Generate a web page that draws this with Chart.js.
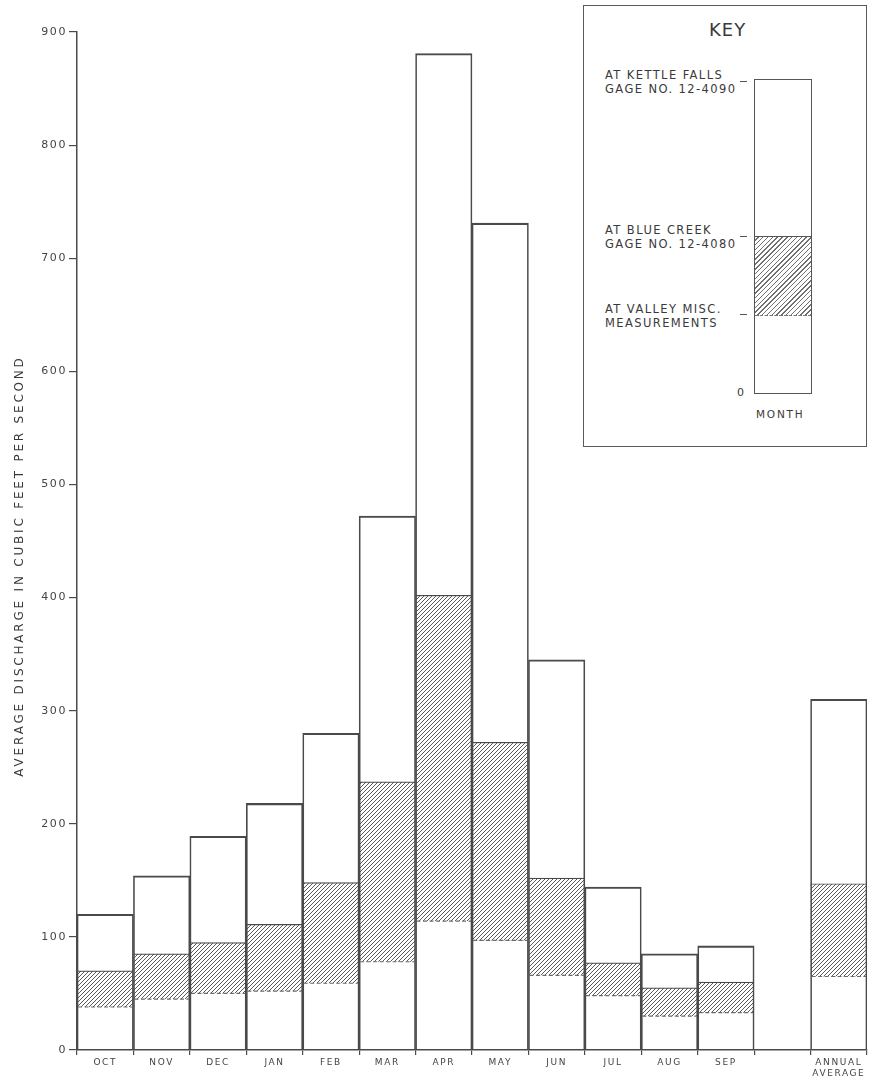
<!DOCTYPE html>
<html>
<head>
<meta charset="utf-8">
<script src="https://cdn.jsdelivr.net/npm/chart.js@4.4.0/dist/chart.umd.min.js"></script>
<style>
html,body{margin:0;padding:0;background:#fff;}
#wrap{position:relative;width:869px;height:1084px;overflow:hidden;}
#chart{position:absolute;left:0;top:0;}
#key{position:absolute;left:583px;top:5px;width:284px;height:442px;border:1.5px solid #5a5a5a;box-sizing:border-box;font-family:"DejaVu Sans",sans-serif;color:#3a3a3a;background:#fff;}
#key .t{position:absolute;white-space:nowrap;}
#key .lab{font-size:11.5px;line-height:14px;letter-spacing:1.4px;}
#key .dash{position:absolute;width:7px;height:0;border-top:1.2px solid #555;}
#kbar{position:absolute;left:170px;top:73px;width:58px;height:315px;border:1.5px solid #555;box-sizing:border-box;}
#khatch{position:absolute;left:0;right:0;top:156px;height:78px;border-top:1.2px solid #555;border-bottom:1.2px dashed #777;background:repeating-linear-gradient(-45deg,#707070 0px,#707070 1px,#fff 1px,#fff 3.4px);}
</style>
</head>
<body>
<div id="wrap">
<canvas id="chart" width="869" height="1084"></canvas>
<div id="key">
  <div class="t" style="left:125px;top:13px;font-size:18px;letter-spacing:1px;">KEY</div>
  <div class="t lab" style="left:21px;top:62px;">AT KETTLE FALLS<br>GAGE NO. 12-4090</div>
  <div class="dash" style="left:156px;top:75px;"></div>
  <div class="t lab" style="left:21px;top:217px;">AT BLUE CREEK<br>GAGE NO. 12-4080</div>
  <div class="dash" style="left:156px;top:230px;"></div>
  <div class="t lab" style="left:21px;top:296px;">AT VALLEY MISC.<br>MEASUREMENTS</div>
  <div class="dash" style="left:156px;top:308px;"></div>
  <div id="kbar"><div id="khatch"></div></div>
  <div class="t" style="left:153px;top:380px;font-size:11px;">0</div>
  <div class="t" style="left:172px;top:402px;font-size:10.5px;letter-spacing:1.8px;">MONTH</div>
</div>
</div>
<script>
// ---- data ----
const categories = ['OCT','NOV','DEC','JAN','FEB','MAR','APR','MAY','JUN','JUL','AUG','SEP','',['ANNUAL','AVERAGE']];
const kettleFalls = [120,154,189,218,280,472,881,731,345,144,85,92,null,310];
const blueCreek   = [70,85,95,111,148,237,402,272,152,77,55,60,null,147];
const valley      = [38,45,50,52,59,78,114,97,66,48,30,33,null,65];
const yTicks      = [0,100,200,300,400,500,600,700,800,900];
const yTitle      = 'AVERAGE DISCHARGE IN CUBIC FEET PER SECOND';

// ---- hatch pattern ----
function makeHatch(){
  const s = 4;
  const c = document.createElement('canvas');
  c.width = s; c.height = s;
  const g = c.getContext('2d');
  g.fillStyle = '#fff'; g.fillRect(0,0,s,s);
  g.strokeStyle = '#5a5a5a'; g.lineWidth = 1;
  g.beginPath();
  g.moveTo(0,s); g.lineTo(s,0);
  g.moveTo(-1,1); g.lineTo(1,-1);
  g.moveTo(s-1,s+1); g.lineTo(s+1,s-1);
  g.stroke();
  return g.createPattern(c,'repeat');
}

Chart.defaults.font.family = '"DejaVu Sans", sans-serif';

const dashedValley = {
  id:'dashedValley',
  afterDatasetsDraw(chart){
    const meta = chart.getDatasetMeta(1);
    const ctx = chart.ctx;
    ctx.save();
    ctx.strokeStyle = '#6a6a6a';
    ctx.lineWidth = 1.2;
    ctx.setLineDash([4,2.5]);
    meta.data.forEach((el,i)=>{
      if (valley[i] == null) return;
      const p = el.getProps(['x','width','base'], true);
      ctx.beginPath();
      ctx.moveTo(p.x - p.width/2 + 1, p.base);
      ctx.lineTo(p.x + p.width/2 - 1, p.base);
      ctx.stroke();
    });
    ctx.restore();
  }
};

// wide, stencil-like lettering: add letter spacing to the canvas texts
const lettering = {
  id:'lettering',
  afterLayout(chart){
    const s = chart.scales.y;
    if (s && !s._wrappedTitle){
      const orig = s.drawTitle.bind(s);
      s.drawTitle = function(){
        const ctx = chart.ctx;
        ctx.save();
        ctx.letterSpacing = '2.8px';
        ctx.translate(0, 25);
        orig();
        ctx.restore();
      };
      s._wrappedTitle = true;
    }
  },
  beforeDraw(chart){ chart.ctx.letterSpacing = '1.6px'; },
  afterDraw(chart){ chart.ctx.letterSpacing = '0px'; }
};

new Chart(document.getElementById('chart'), {
  type:'bar',
  data:{
    labels: categories,
    datasets:[
      {
        label:'At Kettle Falls',
        data: kettleFalls,
        grouped:false,
        backgroundColor:'rgba(0,0,0,0)',
        borderColor:'#4a4a4a',
        borderWidth:{top:1.4,left:1,right:1,bottom:0},
        borderSkipped:false,
        barPercentage:1, categoryPercentage:1
      },
      {
        label:'At Blue Creek',
        data: blueCreek.map((v,i)=> v==null ? null : [valley[i], v]),
        grouped:false,
        backgroundColor: makeHatch(),
        borderColor:'#4a4a4a',
        borderWidth:{top:1.2,left:0,right:0,bottom:0},
        borderSkipped:false,
        barPercentage:1, categoryPercentage:1
      }
    ]
  },
  options:{
    responsive:false,
    animation:false,
    layout:{padding:{top:32,right:2,left:0,bottom:0}},
    plugins:{legend:{display:false},tooltip:{enabled:false}},
    scales:{
      x:{
        grid:{offset:true,drawOnChartArea:false,tickLength:5,color:'#4a4a4a',lineWidth:1.2},
        border:{color:'#4a4a4a',width:1.5},
        ticks:{color:'#444',font:{size:9},maxRotation:0,minRotation:0,autoSkip:false,padding:2},
        afterFit(s){ s.height = 34; }
      },
      y:{
        min:0,max:900,
        afterBuildTicks(s){ s.ticks = yTicks.map(v=>({value:v})); },
        grid:{drawOnChartArea:false,tickLength:8,color:'#4a4a4a',lineWidth:1.2},
        border:{color:'#4a4a4a',width:1.5},
        ticks:{color:'#444',font:{size:11},padding:2},
        title:{display:true,text:yTitle,color:'#3a3a3a',font:{size:12},padding:{top:13,bottom:0}},
        afterFit(s){ s.width = 77; }
      }
    }
  },
  plugins:[dashedValley, lettering]
});
</script>
</body>
</html>
